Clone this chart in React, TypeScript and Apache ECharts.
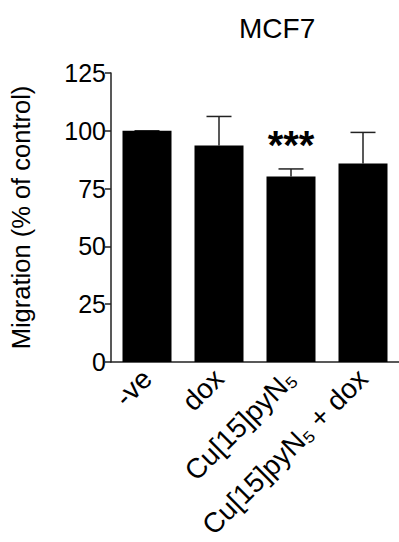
import React, { useEffect, useRef } from "react";
import * as echarts from "echarts";

const categories = ["-ve", "dox", "Cu[15]pyN₅", "Cu[15]pyN₅ + dox"];
const means = [100, 93.6, 80.2, 85.8];
const upper = [100, 106.2, 83.5, 99.3];
const significance = ["", "", "***", ""];
const yTicks = [0, 25, 50, 75, 100, 125];

const FONT = "'Liberation Sans', Arial, sans-serif";

export default function App() {
  const ref = useRef<HTMLDivElement>(null);
  useEffect(() => {
    document.body.style.margin = "0";
    document.body.style.overflow = "hidden";
    const chart = echarts.init(ref.current!, null, { renderer: "svg" });
    const option: any = {
      animation: false,
      textStyle: { fontFamily: FONT },
      title: {
        text: "MCF7",
        left: 234,
        top: 9,
        textStyle: { fontFamily: FONT, fontSize: 28, fontWeight: "normal", color: "#000" },
      },
      grid: { left: 111, right: -5, top: 73, bottom: 180, containLabel: false },
      xAxis: {
        type: "category",
        data: categories,
        axisLine: { lineStyle: { color: "#222", width: 1.5 } },
        axisTick: { alignWithLabel: true, length: 7, lineStyle: { color: "#222", width: 1.5 } },
        axisLabel: {
          rotate: 45,
          margin: 12,
          interval: 0,
          color: "#000",
          fontSize: 28,
          fontFamily: FONT,
        },
      },
      yAxis: {
        type: "value",
        min: 0,
        max: 125,
        interval: 25,
        name: "Migration (% of control)",
        nameLocation: "middle",
        nameGap: 77,
        nameTextStyle: { fontSize: 25.5, color: "#000", fontFamily: FONT },
        splitLine: { show: false },
        axisLine: { show: true, lineStyle: { color: "#222", width: 1.5 } },
        axisTick: { show: true, length: 6, lineStyle: { color: "#222", width: 1.5 } },
        axisLabel: {
          color: "#000",
          fontSize: 25,
          fontFamily: FONT,
          margin: 5,
          customValues: yTicks,
        },
      },
      series: [
        {
          type: "bar",
          data: means.map((m, i) => ({
            value: m,
            label: significance[i]
              ? {
                  show: true,
                  position: "top",
                  formatter: significance[i],
                  distance: 12,
                  fontSize: 40,
                  fontWeight: "bold",
                  color: "#000",
                  fontFamily: FONT,
                }
              : { show: false },
          })),
          barWidth: 49,
          itemStyle: { color: "#000" },
          z: 2,
        },
        {
          type: "custom",
          data: means.map((m, i) => [i, m, upper[i]]),
          z: 1,
          renderItem: (params: any, api: any) => {
            const i = api.value(0);
            const p0 = api.coord([i, api.value(1)]);
            const p1 = api.coord([i, api.value(2)]);
            const half = 12.5;
            return {
              type: "group",
              children: [
                {
                  type: "line",
                  shape: { x1: p0[0], y1: p0[1], x2: p1[0], y2: p1[1] },
                  style: { stroke: "#222", lineWidth: 1.5 },
                },
                {
                  type: "line",
                  shape: { x1: p1[0] - half, y1: p1[1], x2: p1[0] + half, y2: p1[1] },
                  style: { stroke: "#222", lineWidth: 1.5 },
                },
              ],
            };
          },
        },
      ],
    };
    chart.setOption(option);
    return () => chart.dispose();
  }, []);
  return <div ref={ref} style={{ width: 399, height: 542 }} />;
}
